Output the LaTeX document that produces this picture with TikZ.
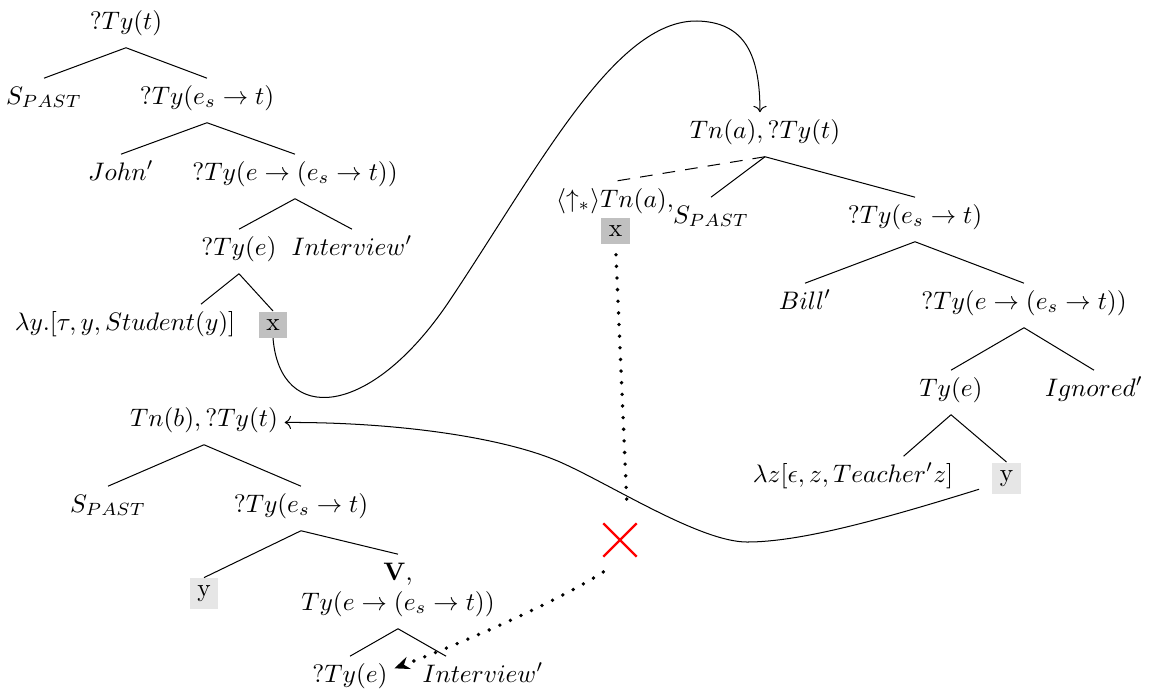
\documentclass[tikz,border=0pt]{standalone}
\usepackage{amsmath,amssymb}
\usepackage{tikz}
\usetikzlibrary{arrows.meta,shapes.misc}
\definecolor{BoxDark}{RGB}{192,192,192}
\definecolor{BoxLight}{RGB}{230,230,230}

\begin{document}
\begin{tikzpicture}[x=0.395pt,y=-0.395pt,
  lbl/.style={inner sep=2.5pt,text height=7.5pt,text depth=4.7pt,anchor=base},
  gbox/.style={fill=BoxDark,inner sep=3pt,anchor=base},
  ybox/.style={fill=BoxLight,inner sep=3pt,anchor=base},
  dotline/.style={line width=1.5pt,line cap=round,dash pattern=on 0pt off 4.6pt}]
  \useasboundingbox (0,0) rectangle (1149,691);
  % first tree
  \node[lbl] (r1) at (126,29) {$?Ty(t)$};
  \node[lbl] (r1s) at (44,104) {$S_{PAST}$};
  \node[lbl] (r1p) at (207,104) {$?Ty(e_s\rightarrow t)$};
  \node[lbl] (john) at (121,180) {$John'$};
  \node[lbl] (r1v) at (295,180) {$?Ty(e\rightarrow(e_s\rightarrow t))$};
  \node[lbl] (r1e) at (239,255) {$?Ty(e)$};
  \node[lbl] (intv) at (352,255) {$Interview'$};
  \node[lbl] (lamy) at (125,330) {$\lambda y.[\tau, y, Student(y)]$};
  \node[gbox] (xa) at (273,330) {x};
  % second tree
  \node[lbl] (tna) at (765,138) {$Tn(a), ?Ty(t)$};
  \node[lbl] (ua) at (615,207) {$\langle\uparrow_*\rangle Tn(a),$};
  \node[gbox] (xb) at (615.5,236.5) {x};
  \node[lbl] (r2s) at (711,223) {$S_{PAST}$};
  \node[lbl] (r2p) at (915,223) {$?Ty(e_s\rightarrow t)$};
  \node[lbl] (bill) at (805,309) {$Bill'$};
  \node[lbl] (r2v) at (1024,309) {$?Ty(e\rightarrow(e_s\rightarrow t))$};
  \node[lbl] (r2e) at (951,396) {$Ty(e)$};
  \node[lbl] (ign) at (1094,396) {$Ignored'$};
  \node[lbl] (lamz) at (853,482) {$\lambda z[\epsilon, z, Teacher'z]$};
  \node[ybox] (ya) at (1006.5,481) {y};
  % third tree
  \node[lbl] (tnb) at (204,426) {$Tn(b), ?Ty(t)$};
  \node[lbl] (r3s) at (108,512) {$S_{PAST}$};
  \node[lbl] (r3p) at (301,512) {$?Ty(e_s\rightarrow t)$};
  \node[ybox] (yb) at (204,596.6) {y};
  \node[lbl] (vv) at (398,580) {$\mathbf{V}$,};
  \node[lbl] (r3v) at (398,610) {$Ty(e\rightarrow(e_s\rightarrow t))$};
  \node[lbl] (r3e) at (350,682) {$?Ty(e)$};
  \node[lbl] (intv2) at (483,682) {$Interview'$};
  \node[draw=red,cross out,minimum size=12.3pt,inner sep=0pt,line width=0.9pt] (blk) at (620,540) {};
  \coordinate (stop) at (627,507);

  \foreach \p/\c in {r1/r1s,r1/r1p,r1p/john,r1p/r1v,r1v/r1e,r1v/intv,r1e/xa,
      tna/r2s,tna/r2p,r2p/bill,r2p/r2v,r2v/r2e,r2v/ign,r2e/ya,
      tnb/r3s,tnb/r3p,r3p/yb,r3p/vv,r3v/r3e}
    \draw (\p.south) -- (\c.north);
  \draw (r1e.south) -- ([xshift=30pt]lamy.north);
  \draw (r2e.south) -- ([xshift=20pt]lamz.north);
  \draw (r3v.south) -- ([xshift=-14.6pt]intv2.north);
  \draw[dash pattern=on 5pt off 4pt] (tna.south) -- (ua.north);

  \draw[->] (xa.south) .. controls (280,425) and (370,420) .. (450,300)
    .. controls (540,165) and (615,20) .. (697,21)
    .. controls (745,22) and (760,55) .. ([xshift=-2pt]tna.north);
  \draw[->] ([xshift=-5pt,yshift=2pt]ya.south west) .. controls (880,520) and (800,542) .. (747,542)
    .. controls (700,542) and (610,484) .. (560,462)
    .. controls (505,438) and (400,422) .. (tnb.east);
  \draw[dotline,shorten <=4pt] (xb.south) -- (stop);
  \draw[dotline,-{Stealth[length=6pt,width=5pt]}] ([yshift=-6pt]blk.south west)
    .. controls (560,600) and (470,640) .. ([yshift=4pt]r3e.east);
\end{tikzpicture}
\end{document}
